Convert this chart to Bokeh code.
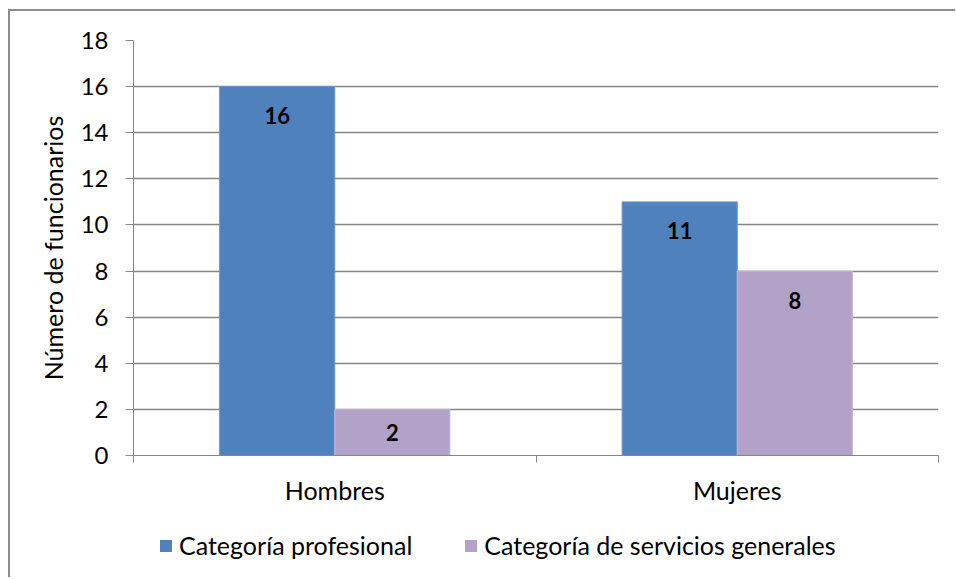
from bokeh.plotting import figure
from bokeh.models import (ColumnDataSource, FixedTicker, Legend, LegendItem, Range1d)
from bokeh.layouts import column
from bokeh.core.properties import value
from bokeh.embed import file_html
from bokeh.resources import INLINE

categories = ["Hombres", "Mujeres"]
profesional = [16, 11]
servicios = [2, 8]
series_names = ["Categoría profesional", "Categoría de servicios generales"]
y_ticks = [0, 2, 4, 6, 8, 10, 12, 14, 16, 18]

FONT = "Lato"
BLUE = "#4F81BD"
PURPLE = "#B3A2C7"
GRAY = "#868686"

BAR_W = 0.286
centers = [i + 0.5 for i in range(len(categories))]

p = figure(width=945, height=509, output_backend="svg", toolbar_location=None,
           x_range=Range1d(0, len(categories)), y_range=Range1d(0, 18),
           min_border_left=123, min_border_right=17, min_border_top=29,
           min_border_bottom=65)
p.outline_line_color = None
p.background_fill_color = "white"

def label_y(v):
    return max(v - 1.26, v / 2)

src1 = ColumnDataSource(dict(x=[c - BAR_W / 2 for c in centers], top=profesional,
                             lab=[str(v) for v in profesional],
                             ly=[label_y(v) for v in profesional]))
src2 = ColumnDataSource(dict(x=[c + BAR_W / 2 for c in centers], top=servicios,
                             lab=[str(v) for v in servicios],
                             ly=[label_y(v) for v in servicios]))

p.vbar(x="x", top="top", width=BAR_W, bottom=0, source=src1,
       fill_color=BLUE, line_color="#6a95c9", line_width=1)
p.vbar(x="x", top="top", width=BAR_W, bottom=0, source=src2,
       fill_color=PURPLE, line_color="#c3b6d4", line_width=1)

for s in (src1, src2):
    p.text(x="x", y="ly", text="lab", source=s, text_align="center",
           text_baseline="middle", text_font=value(FONT), text_font_size="22px",
           text_font_style="bold", text_color="black")

# axes
p.yaxis.ticker = FixedTicker(ticks=y_ticks)
p.yaxis.axis_line_color = GRAY
p.yaxis.major_tick_line_color = GRAY
p.yaxis.major_tick_out = 8
p.yaxis.major_tick_in = 0
p.yaxis.minor_tick_line_color = None
p.yaxis.major_label_text_font = FONT
p.yaxis.major_label_text_font_size = "24px"
p.yaxis.major_label_text_color = "black"
p.yaxis.major_label_standoff = 17
p.yaxis.axis_label = "Número de funcionarios"
p.yaxis.axis_label_text_font = FONT
p.yaxis.axis_label_text_font_size = "25px"
p.yaxis.axis_label_text_font_style = "normal"
p.yaxis.axis_label_text_color = "black"
p.yaxis.axis_label_standoff = 10

p.xaxis.ticker = FixedTicker(ticks=centers, minor_ticks=list(range(len(categories) + 1)))
p.xaxis.major_label_overrides = {c: n for c, n in zip(centers, categories)}
p.xaxis.axis_line_color = GRAY
p.xaxis.major_tick_line_color = None
p.xaxis.minor_tick_line_color = GRAY
p.xaxis.minor_tick_out = 7
p.xaxis.minor_tick_in = 0
p.xaxis.major_label_text_font = FONT
p.xaxis.major_label_text_font_size = "25px"
p.xaxis.major_label_text_color = "black"
p.xaxis.major_label_standoff = 12

p.xgrid.grid_line_color = None
p.ygrid.ticker = FixedTicker(ticks=y_ticks)
p.ygrid.grid_line_color = GRAY
p.ygrid.grid_line_width = 1.5

# legend strip below the chart
lf = figure(width=945, height=57, output_backend="svg", toolbar_location=None,
            x_range=Range1d(0, 1), y_range=Range1d(0, 1),
            min_border_left=0, min_border_right=0, min_border_top=0,
            min_border_bottom=0)
lf.axis.visible = False
lf.grid.visible = False
lf.outline_line_color = None
nan = float("nan")
g1 = lf.vbar(x="x", top="top", width=0.1, source=ColumnDataSource(dict(x=[nan], top=[nan])),
             fill_color=BLUE, line_color=None)
g2 = lf.vbar(x="x", top="top", width=0.1, source=ColumnDataSource(dict(x=[nan], top=[nan])),
             fill_color=PURPLE, line_color=None)
legend = Legend(items=[LegendItem(label=series_names[0], renderers=[g1]),
                       LegendItem(label=series_names[1], renderers=[g2])],
                orientation="horizontal", location=(25, 17),
                label_text_font=FONT, label_text_font_size="25px",
                label_text_color="black", glyph_width=15, glyph_height=15,
                label_standoff=6, spacing=51, border_line_color=None,
                background_fill_alpha=0, padding=0, margin=0)
lf.add_layout(legend, "center")

layout = column(p, lf, spacing=0, margin=(9, 0, 0, 8),
                styles={"border-top": "2px solid #8c8c8c",
                        "border-left": "2px solid #8c8c8c"})

open("out.html", "w").write(file_html(layout, INLINE))
